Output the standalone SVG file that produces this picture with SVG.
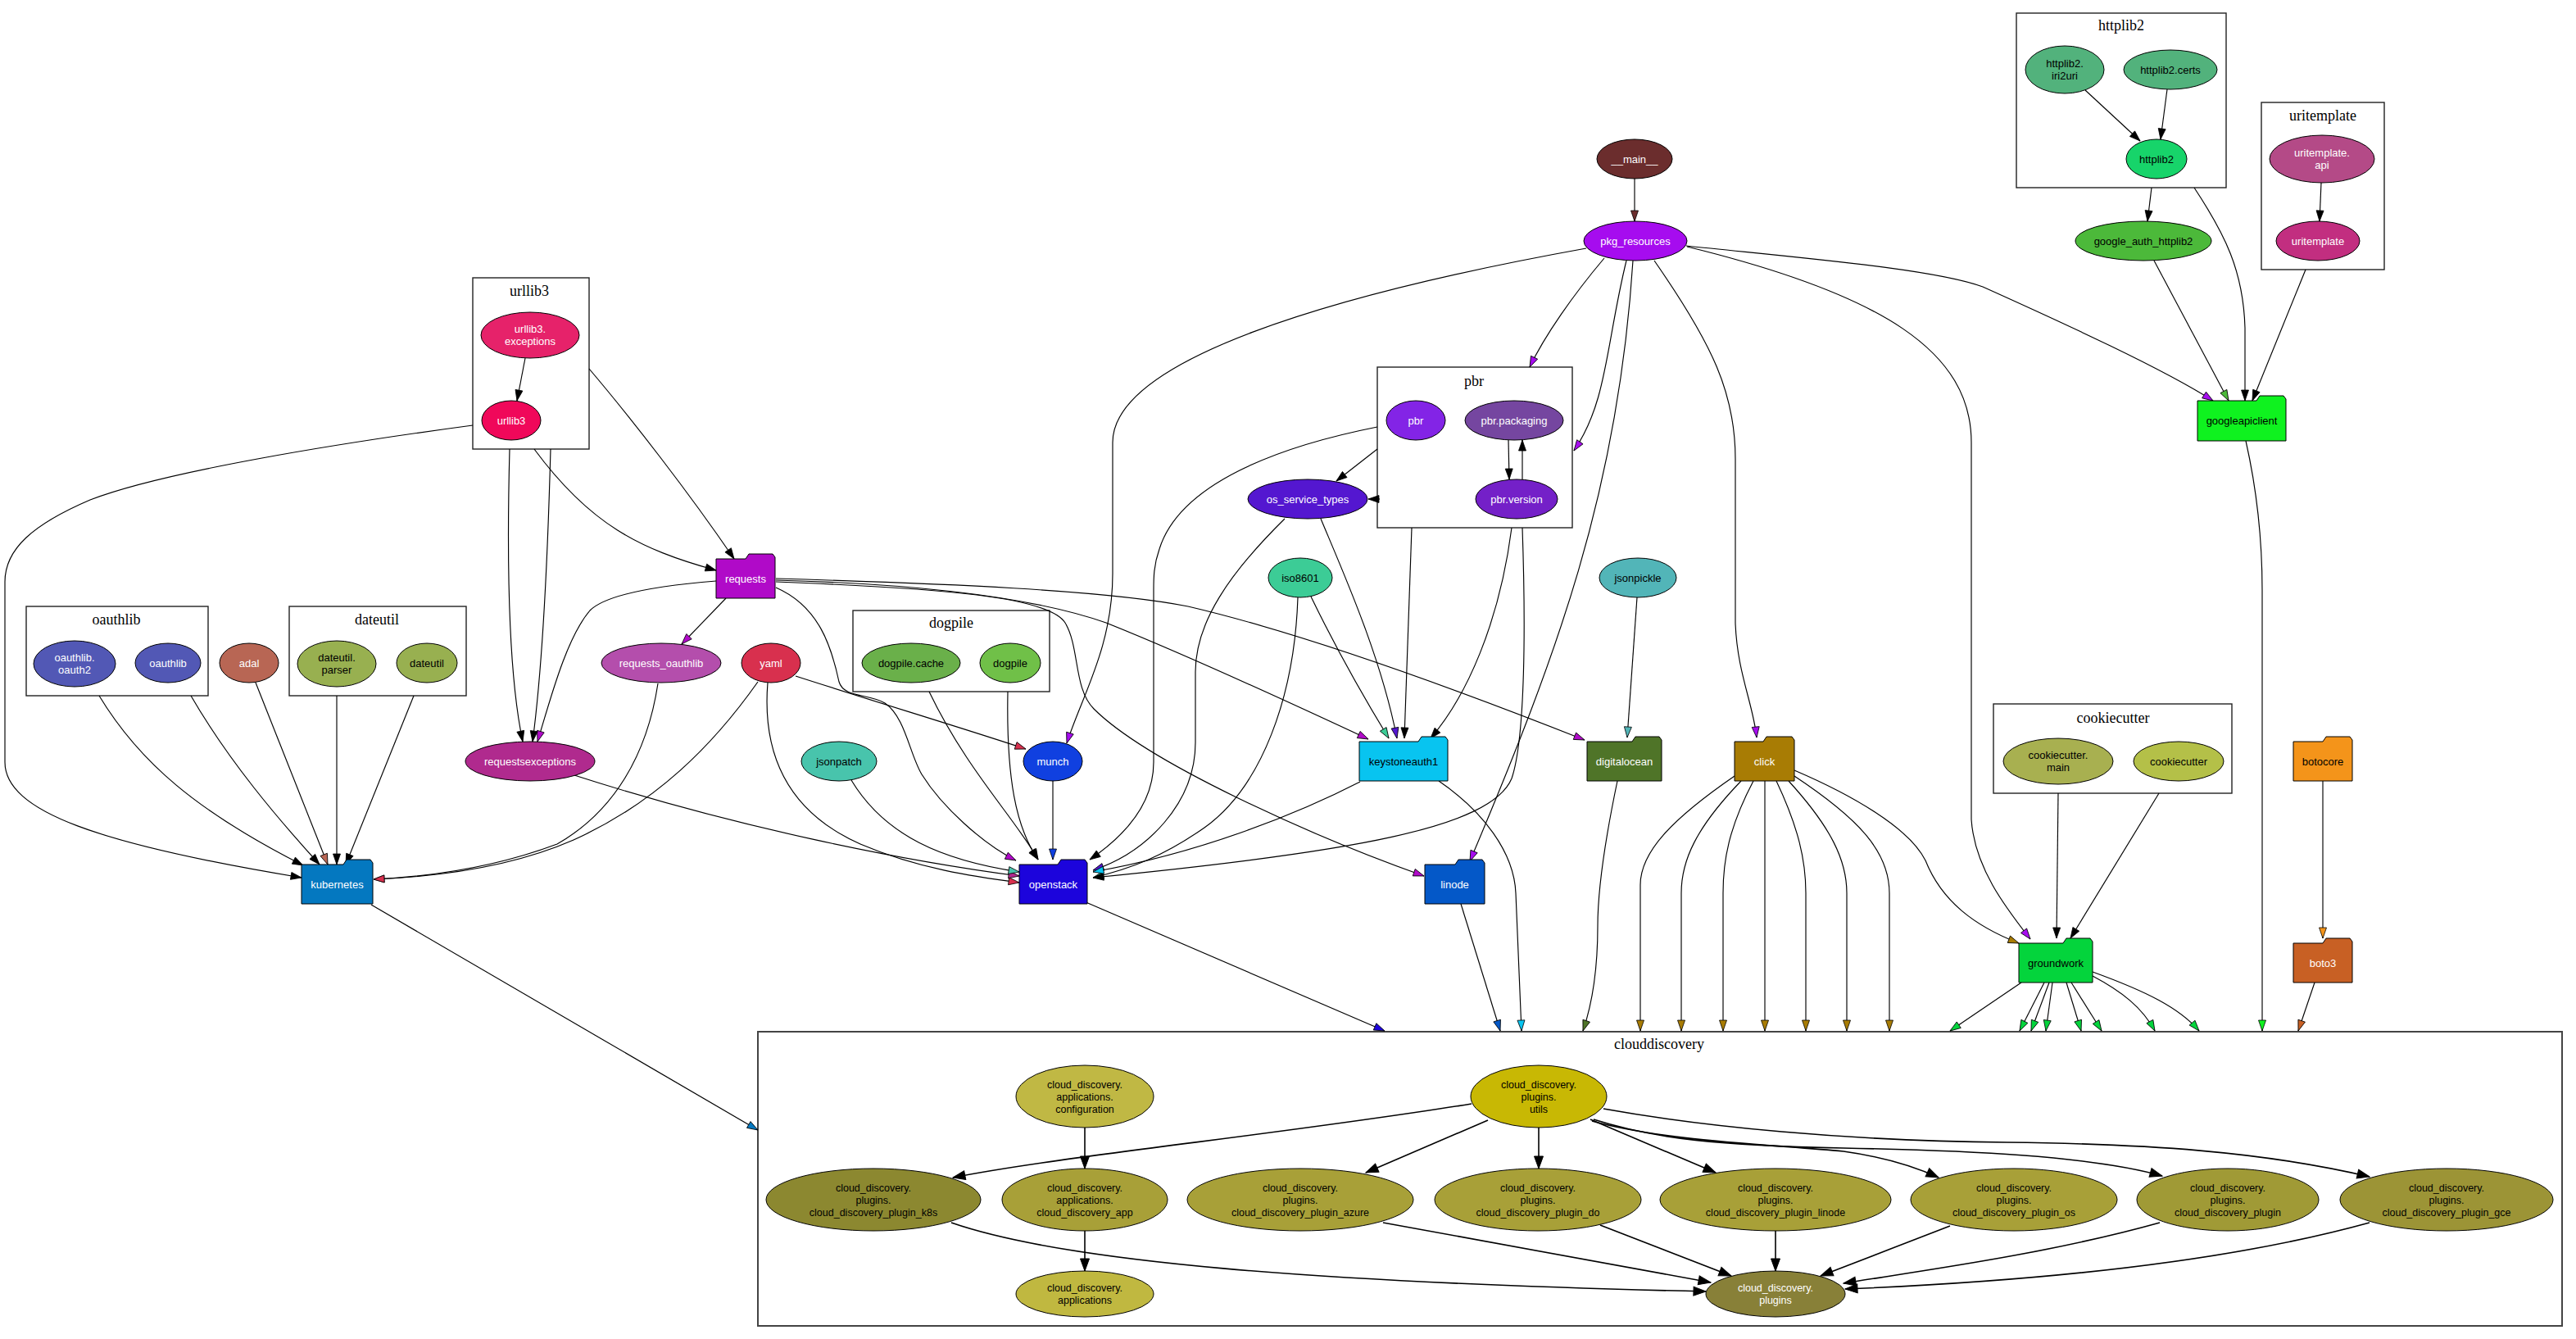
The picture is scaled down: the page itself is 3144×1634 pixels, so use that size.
<svg xmlns="http://www.w3.org/2000/svg" width="3144" height="1634" viewBox="0 0 3144 1634">
<style>
text{font-family:"Liberation Sans",Arial,sans-serif;font-size:13px;text-anchor:middle;fill:#000}
text.w{fill:#fff}
.cd text{font-size:12.5px}
.clu rect{fill:none;stroke:#222;stroke-width:1.4}
.clu text{font-family:"Liberation Serif","Times New Roman",serif;font-size:18px}
.nd ellipse,.nd path{stroke:#000;stroke-width:1}
.e path{fill:none;stroke:#000;stroke-width:1.15}
.ie path{fill:none;stroke:#000;stroke-width:1.6}
</style>
<defs>
<marker id="m-k" markerWidth="14" markerHeight="10" refX="13" refY="5" orient="auto" markerUnits="userSpaceOnUse" overflow="visible"><path d="M0,0.5 L13,5 L0,9.5 Z" fill="#000" stroke="#000" stroke-width="0.8"/></marker>
<marker id="m-K" markerWidth="16" markerHeight="12" refX="15" refY="6" orient="auto" markerUnits="userSpaceOnUse" overflow="visible"><path d="M0,0.5 L15,6 L0,11.5 Z" fill="#000" stroke="#000" stroke-width="1"/></marker>
<marker id="m-main" markerWidth="14" markerHeight="10" refX="13" refY="5" orient="auto" markerUnits="userSpaceOnUse" overflow="visible"><path d="M0,0.5 L13,5 L0,9.5 Z" fill="#6b2d2d" stroke="#000" stroke-width="0.8"/></marker>
<marker id="m-pkg" markerWidth="14" markerHeight="10" refX="13" refY="5" orient="auto" markerUnits="userSpaceOnUse" overflow="visible"><path d="M0,0.5 L13,5 L0,9.5 Z" fill="#a60cef" stroke="#000" stroke-width="0.8"/></marker>
<marker id="m-gauth" markerWidth="14" markerHeight="10" refX="13" refY="5" orient="auto" markerUnits="userSpaceOnUse" overflow="visible"><path d="M0,0.5 L13,5 L0,9.5 Z" fill="#4cb93a" stroke="#000" stroke-width="0.8"/></marker>
<marker id="m-gapi" markerWidth="14" markerHeight="10" refX="13" refY="5" orient="auto" markerUnits="userSpaceOnUse" overflow="visible"><path d="M0,0.5 L13,5 L0,9.5 Z" fill="#0ff21f" stroke="#000" stroke-width="0.8"/></marker>
<marker id="m-ost" markerWidth="14" markerHeight="10" refX="13" refY="5" orient="auto" markerUnits="userSpaceOnUse" overflow="visible"><path d="M0,0.5 L13,5 L0,9.5 Z" fill="#5417d0" stroke="#000" stroke-width="0.8"/></marker>
<marker id="m-iso" markerWidth="14" markerHeight="10" refX="13" refY="5" orient="auto" markerUnits="userSpaceOnUse" overflow="visible"><path d="M0,0.5 L13,5 L0,9.5 Z" fill="#3ccc96" stroke="#000" stroke-width="0.8"/></marker>
<marker id="m-ks" markerWidth="14" markerHeight="10" refX="13" refY="5" orient="auto" markerUnits="userSpaceOnUse" overflow="visible"><path d="M0,0.5 L13,5 L0,9.5 Z" fill="#08c4f0" stroke="#000" stroke-width="0.8"/></marker>
<marker id="m-req" markerWidth="14" markerHeight="10" refX="13" refY="5" orient="auto" markerUnits="userSpaceOnUse" overflow="visible"><path d="M0,0.5 L13,5 L0,9.5 Z" fill="#b00ac8" stroke="#000" stroke-width="0.8"/></marker>
<marker id="m-roa" markerWidth="14" markerHeight="10" refX="13" refY="5" orient="auto" markerUnits="userSpaceOnUse" overflow="visible"><path d="M0,0.5 L13,5 L0,9.5 Z" fill="#b44eac" stroke="#000" stroke-width="0.8"/></marker>
<marker id="m-yaml" markerWidth="14" markerHeight="10" refX="13" refY="5" orient="auto" markerUnits="userSpaceOnUse" overflow="visible"><path d="M0,0.5 L13,5 L0,9.5 Z" fill="#d8304e" stroke="#000" stroke-width="0.8"/></marker>
<marker id="m-rexc" markerWidth="14" markerHeight="10" refX="13" refY="5" orient="auto" markerUnits="userSpaceOnUse" overflow="visible"><path d="M0,0.5 L13,5 L0,9.5 Z" fill="#b02a8e" stroke="#000" stroke-width="0.8"/></marker>
<marker id="m-jp" markerWidth="14" markerHeight="10" refX="13" refY="5" orient="auto" markerUnits="userSpaceOnUse" overflow="visible"><path d="M0,0.5 L13,5 L0,9.5 Z" fill="#48c4ac" stroke="#000" stroke-width="0.8"/></marker>
<marker id="m-adal" markerWidth="14" markerHeight="10" refX="13" refY="5" orient="auto" markerUnits="userSpaceOnUse" overflow="visible"><path d="M0,0.5 L13,5 L0,9.5 Z" fill="#b86654" stroke="#000" stroke-width="0.8"/></marker>
<marker id="m-kub" markerWidth="14" markerHeight="10" refX="13" refY="5" orient="auto" markerUnits="userSpaceOnUse" overflow="visible"><path d="M0,0.5 L13,5 L0,9.5 Z" fill="#0478c0" stroke="#000" stroke-width="0.8"/></marker>
<marker id="m-munch" markerWidth="14" markerHeight="10" refX="13" refY="5" orient="auto" markerUnits="userSpaceOnUse" overflow="visible"><path d="M0,0.5 L13,5 L0,9.5 Z" fill="#1040e0" stroke="#000" stroke-width="0.8"/></marker>
<marker id="m-ostk" markerWidth="14" markerHeight="10" refX="13" refY="5" orient="auto" markerUnits="userSpaceOnUse" overflow="visible"><path d="M0,0.5 L13,5 L0,9.5 Z" fill="#1c04dc" stroke="#000" stroke-width="0.8"/></marker>
<marker id="m-lin" markerWidth="14" markerHeight="10" refX="13" refY="5" orient="auto" markerUnits="userSpaceOnUse" overflow="visible"><path d="M0,0.5 L13,5 L0,9.5 Z" fill="#0458c8" stroke="#000" stroke-width="0.8"/></marker>
<marker id="m-do" markerWidth="14" markerHeight="10" refX="13" refY="5" orient="auto" markerUnits="userSpaceOnUse" overflow="visible"><path d="M0,0.5 L13,5 L0,9.5 Z" fill="#4f7428" stroke="#000" stroke-width="0.8"/></marker>
<marker id="m-jpk" markerWidth="14" markerHeight="10" refX="13" refY="5" orient="auto" markerUnits="userSpaceOnUse" overflow="visible"><path d="M0,0.5 L13,5 L0,9.5 Z" fill="#52b5b8" stroke="#000" stroke-width="0.8"/></marker>
<marker id="m-click" markerWidth="14" markerHeight="10" refX="13" refY="5" orient="auto" markerUnits="userSpaceOnUse" overflow="visible"><path d="M0,0.5 L13,5 L0,9.5 Z" fill="#a87c04" stroke="#000" stroke-width="0.8"/></marker>
<marker id="m-gw" markerWidth="14" markerHeight="10" refX="13" refY="5" orient="auto" markerUnits="userSpaceOnUse" overflow="visible"><path d="M0,0.5 L13,5 L0,9.5 Z" fill="#04d43c" stroke="#000" stroke-width="0.8"/></marker>
<marker id="m-boc" markerWidth="14" markerHeight="10" refX="13" refY="5" orient="auto" markerUnits="userSpaceOnUse" overflow="visible"><path d="M0,0.5 L13,5 L0,9.5 Z" fill="#f4941a" stroke="#000" stroke-width="0.8"/></marker>
<marker id="m-b3" markerWidth="14" markerHeight="10" refX="13" refY="5" orient="auto" markerUnits="userSpaceOnUse" overflow="visible"><path d="M0,0.5 L13,5 L0,9.5 Z" fill="#c86024" stroke="#000" stroke-width="0.8"/></marker>
</defs>
<rect width="3144" height="1634" fill="#fff"/>

<g id="clusters" class="clu">
<g id="c-httplib2"><rect x="2461" y="16" width="256" height="213"/><text x="2589" y="37">httplib2</text></g>
<g id="c-uritemplate"><rect x="2760" y="125" width="150" height="204"/><text x="2835" y="147">uritemplate</text></g>
<g id="c-urllib3"><rect x="577" y="339" width="142" height="209"/><text x="646" y="361">urllib3</text></g>
<g id="c-pbr"><rect x="1681" y="448" width="238" height="196"/><text x="1799" y="471">pbr</text></g>
<g id="c-oauthlib"><rect x="32" y="740" width="222" height="109"/><text x="142" y="762">oauthlib</text></g>
<g id="c-dateutil"><rect x="353" y="740" width="216" height="109"/><text x="460" y="762">dateutil</text></g>
<g id="c-dogpile"><rect x="1041" y="745" width="240" height="99"/><text x="1161" y="766">dogpile</text></g>
<g id="c-cookiecutter"><rect x="2433" y="859" width="291" height="109"/><text x="2579" y="882">cookiecutter</text></g>
<g id="c-clouddiscovery"><rect x="925" y="1259" width="2202" height="359" style="stroke:#444;stroke-width:2"/><text x="2025" y="1280">clouddiscovery</text></g>
</g>

<g id="edges" class="e">
<path d="M1995,218 L1995,270" marker-end="url(#m-main)"/>
<path d="M2545,110 L2612,172" marker-end="url(#m-k)"/>
<path d="M2645,109 L2637,170" marker-end="url(#m-k)"/>
<path d="M2626,229 L2621,270" marker-end="url(#m-k)"/>
<path d="M2678,229 C2715,285 2738,330 2740,400 L2740,489" marker-end="url(#m-k)"/>
<path d="M2833,223 L2831,270" marker-end="url(#m-k)"/>
<path d="M2814,329 L2749,489" marker-end="url(#m-k)"/>
<path d="M2629,318 L2720,489" marker-end="url(#m-gauth)"/>
<path d="M2058,300 C2200,315 2360,328 2420,350 C2520,395 2640,450 2701,489" marker-end="url(#m-pkg)"/>
<path d="M2741,538 C2755,600 2761,660 2761,720 L2761,1258" marker-end="url(#m-gapi)"/>
<path d="M1936,303 C1620,360 1358,440 1358,540 L1358,700 C1358,790 1320,850 1302,907" marker-end="url(#m-pkg)"/>
<path d="M1958,315 C1920,360 1885,410 1867,448" marker-end="url(#m-pkg)"/>
<path d="M1985,318 C1960,420 1962,490 1921,550" marker-end="url(#m-pkg)"/>
<path d="M1993,318 C1975,600 1900,800 1794,1051" marker-end="url(#m-pkg)"/>
<path d="M2019,318 C2090,420 2118,480 2118,560 L2118,760 C2120,820 2140,860 2144,900" marker-end="url(#m-pkg)"/>
<path d="M2059,301 C2300,360 2406,430 2406,540 L2406,1000 C2410,1060 2450,1110 2478,1146" marker-end="url(#m-pkg)"/>
<path d="M1841,537 L1842,585" marker-end="url(#m-k)"/>
<path d="M1858,585 L1858,537" marker-end="url(#m-k)"/>
<path d="M1681,548 L1631,587" marker-end="url(#m-k)"/>
<path d="M1684,609 L1670,609" marker-end="url(#m-k)"/>
<path d="M1681,521 C1560,545 1440,590 1415,670 C1408,690 1408,705 1408,720 L1408,930 C1408,975 1380,1015 1330,1049" marker-end="url(#m-k)"/>
<path d="M1612,633 C1640,700 1685,800 1705,901" marker-end="url(#m-ost)"/>
<path d="M1568,633 C1500,700 1459,760 1459,820 L1459,906 C1459,980 1400,1040 1334,1062" marker-end="url(#m-ost)"/>
<path d="M1600,728 C1630,790 1670,860 1695,901" marker-end="url(#m-iso)"/>
<path d="M1584,729 C1580,850 1540,960 1470,1010 C1420,1045 1380,1060 1334,1071" marker-end="url(#m-iso)"/>
<path d="M1723,644 L1714,901" marker-end="url(#m-k)"/>
<path d="M1845,644 C1830,760 1790,850 1746,901" marker-end="url(#m-k)"/>
<path d="M1858,644 C1862,760 1862,900 1845,950 C1820,1010 1650,1040 1334,1071" marker-end="url(#m-k)"/>
<path d="M1660,954 C1590,990 1470,1040 1334,1064" marker-end="url(#m-ks)"/>
<path d="M1756,953 C1810,990 1848,1040 1850,1090 L1857,1258" marker-end="url(#m-ks)"/>
<path d="M947,708 C1100,712 1250,725 1350,760 C1450,800 1580,860 1670,902" marker-end="url(#m-req)"/>
<path d="M947,706 C1150,712 1350,720 1450,740 C1600,775 1800,850 1934,903" marker-end="url(#m-req)"/>
<path d="M947,710 C1150,718 1280,728 1300,760 C1318,790 1310,840 1335,865 C1400,930 1600,1020 1738,1069" marker-end="url(#m-req)"/>
<path d="M947,717 C1000,740 1015,790 1024,832 C1030,852 1060,846 1080,858 C1105,875 1110,920 1125,945 C1150,985 1200,1030 1240,1050" marker-end="url(#m-req)"/>
<path d="M886,730 L832,786" marker-end="url(#m-req)"/>
<path d="M874,709 C800,715 740,725 720,745 C690,780 670,860 656,905" marker-end="url(#m-req)"/>
<path d="M641,437 L631,489" marker-end="url(#m-k)"/>
<path d="M577,519 C420,540 200,575 110,610 C40,640 6,670 6,710 L6,930 C6,990 120,1030 368,1071" marker-end="url(#m-k)"/>
<path d="M719,450 C770,510 840,600 896,682" marker-end="url(#m-k)"/>
<path d="M652,548 C720,640 780,670 874,696" marker-end="url(#m-k)"/>
<path d="M622,548 C618,700 622,830 638,905" marker-end="url(#m-k)"/>
<path d="M672,548 C668,700 660,830 650,905" marker-end="url(#m-k)"/>
<path d="M803,834 C790,920 750,990 680,1030 C600,1060 520,1070 456,1073" marker-end="url(#m-roa)"/>
<path d="M925,832 C870,910 800,980 700,1025 C620,1060 530,1070 456,1073" marker-end="url(#m-yaml)"/>
<path d="M971,825 C1080,860 1180,890 1252,914" marker-end="url(#m-yaml)"/>
<path d="M937,833 C930,920 960,990 1050,1030 C1120,1060 1190,1070 1244,1077" marker-end="url(#m-yaml)"/>
<path d="M701,946 C900,1010 1100,1050 1244,1069" marker-end="url(#m-rexc)"/>
<path d="M1039,952 C1080,1020 1150,1050 1244,1064" marker-end="url(#m-jp)"/>
<path d="M121,849 C170,930 240,990 370,1056" marker-end="url(#m-k)"/>
<path d="M233,849 C280,930 340,1000 390,1055" marker-end="url(#m-k)"/>
<path d="M312,833 L400,1055" marker-end="url(#m-adal)"/>
<path d="M411,849 L411,1055" marker-end="url(#m-k)"/>
<path d="M505,849 L422,1055" marker-end="url(#m-k)"/>
<path d="M453,1104 L925,1379" marker-end="url(#m-kub)"/>
<path d="M1134,844 C1180,940 1240,1000 1267,1049" marker-end="url(#m-k)"/>
<path d="M1230,844 C1228,950 1240,1010 1267,1049" marker-end="url(#m-k)"/>
<path d="M1285,953 L1285,1049" marker-end="url(#m-munch)"/>
<path d="M1323,1100 L1690,1258" marker-end="url(#m-ostk)"/>
<path d="M1783,1103 L1831,1258" marker-end="url(#m-lin)"/>
<path d="M1974,953 C1960,1020 1950,1080 1950,1130 C1950,1180 1945,1220 1932,1258" marker-end="url(#m-do)"/>
<path d="M1998,729 L1986,900" marker-end="url(#m-jpk)"/>
<path d="M2117,947 C2040,1000 2002,1040 2002,1080 L2002,1258" marker-end="url(#m-click)"/>
<path d="M2125,953 C2070,1010 2052,1050 2052,1090 L2052,1258" marker-end="url(#m-click)"/>
<path d="M2140,953 C2110,1010 2103,1050 2103,1090 L2103,1258" marker-end="url(#m-click)"/>
<path d="M2154,953 L2154,1258" marker-end="url(#m-click)"/>
<path d="M2168,953 C2195,1010 2204,1050 2204,1090 L2204,1258" marker-end="url(#m-click)"/>
<path d="M2183,953 C2235,1010 2254,1050 2254,1090 L2254,1258" marker-end="url(#m-click)"/>
<path d="M2190,947 C2270,1000 2306,1040 2306,1090 L2306,1258" marker-end="url(#m-click)"/>
<path d="M2190,940 C2260,970 2330,1010 2350,1050 C2370,1100 2410,1130 2464,1151" marker-end="url(#m-click)"/>
<path d="M2467,1199 L2380,1258" marker-end="url(#m-gw)"/>
<path d="M2495,1199 L2465,1258" marker-end="url(#m-gw)"/>
<path d="M2501,1199 L2479,1258" marker-end="url(#m-gw)"/>
<path d="M2505,1199 L2497,1258" marker-end="url(#m-gw)"/>
<path d="M2522,1199 L2540,1258" marker-end="url(#m-gw)"/>
<path d="M2528,1199 L2565,1258" marker-end="url(#m-gw)"/>
<path d="M2554,1191 C2590,1210 2615,1230 2630,1258" marker-end="url(#m-gw)"/>
<path d="M2554,1186 C2620,1210 2660,1230 2684,1258" marker-end="url(#m-gw)"/>
<path d="M2835,953 L2835,1145" marker-end="url(#m-boc)"/>
<path d="M2825,1199 L2805,1258" marker-end="url(#m-b3)"/>
<path d="M2512,968 L2510,1145" marker-end="url(#m-k)"/>
<path d="M2635,968 L2527,1145" marker-end="url(#m-k)"/>
</g>
<g id="edges-cd" class="ie">
<path d="M1324,1376 L1324,1426" marker-end="url(#m-K)"/>
<path d="M1796,1347 C1560,1385 1300,1410 1163,1437" marker-end="url(#m-K)"/>
<path d="M1816,1367 L1667,1431" marker-end="url(#m-K)"/>
<path d="M1878,1376 L1878,1426" marker-end="url(#m-K)"/>
<path d="M1941,1366 L2094,1431" marker-end="url(#m-K)"/>
<path d="M1943,1368 C2030,1392 2150,1396 2250,1405 C2300,1412 2340,1425 2366,1437" marker-end="url(#m-K)"/>
<path d="M1945,1366 C2020,1390 2100,1398 2250,1401 C2400,1404 2550,1410 2639,1435" marker-end="url(#m-K)"/>
<path d="M1957,1353 C2080,1375 2250,1392 2450,1394 C2620,1396 2760,1405 2892,1436" marker-end="url(#m-K)"/>
<path d="M1161,1492 C1300,1540 1600,1565 2082,1576" marker-end="url(#m-K)"/>
<path d="M1324,1502 L1324,1551" marker-end="url(#m-K)"/>
<path d="M1688,1492 L2088,1565" marker-end="url(#m-K)"/>
<path d="M1953,1495 L2113,1557" marker-end="url(#m-K)"/>
<path d="M2167,1502 L2167,1551" marker-end="url(#m-K)"/>
<path d="M2380,1496 L2222,1557" marker-end="url(#m-K)"/>
<path d="M2636,1492 C2500,1530 2350,1550 2250,1566" marker-end="url(#m-K)"/>
<path d="M2892,1492 C2700,1545 2450,1565 2252,1573" marker-end="url(#m-K)"/>
</g>

<g id="nodes" class="nd">
<g id="n-main"><ellipse cx="1995" cy="194" rx="46" ry="24" fill="#6b2d2d"/><text x="1995" y="198.5" class="w">__main__</text></g>
<g id="n-pkg_resources"><ellipse cx="1996" cy="294" rx="63" ry="24" fill="#a60cef"/><text x="1996" y="298.5" class="w">pkg_resources</text></g>
<g id="n-httplib2-iri2uri"><ellipse cx="2520" cy="85" rx="48" ry="29" fill="#52b27c"/><text x="2520" y="82">httplib2.</text><text x="2520" y="97">iri2uri</text></g>
<g id="n-httplib2-certs"><ellipse cx="2649" cy="85" rx="57" ry="24" fill="#52b27c"/><text x="2649" y="89.5">httplib2.certs</text></g>
<g id="n-httplib2"><ellipse cx="2632" cy="194" rx="37" ry="24" fill="#17d46a"/><text x="2632" y="198.5">httplib2</text></g>
<g id="n-google_auth_httplib2"><ellipse cx="2616" cy="294" rx="83" ry="24" fill="#4cb93a"/><text x="2616" y="298.5">google_auth_httplib2</text></g>
<g id="n-uritemplate-api"><ellipse cx="2834" cy="194" rx="64" ry="29" fill="#b44a87"/><text x="2834" y="191" class="w">uritemplate.</text><text x="2834" y="206" class="w">api</text></g>
<g id="n-uritemplate"><ellipse cx="2829" cy="294" rx="51" ry="24" fill="#c22e80"/><text x="2829" y="298.5" class="w">uritemplate</text></g>
<g id="n-googleapiclient"><path d="M2682,489 L2754,489 L2758,483 L2787,483 L2790,487 L2790,538 L2682,538 Z" fill="#0ff21f"/><text x="2736" y="518">googleapiclient</text></g>
<g id="n-urllib3-exceptions"><ellipse cx="647" cy="409" rx="60" ry="28" fill="#e6226a"/><text x="647" y="405.5" class="w">urllib3.</text><text x="647" y="420.5" class="w">exceptions</text></g>
<g id="n-urllib3"><ellipse cx="624" cy="513" rx="36" ry="24" fill="#f0085a"/><text x="624" y="517.5" class="w">urllib3</text></g>
<g id="n-pbr"><ellipse cx="1728" cy="513" rx="36" ry="24" fill="#8324e6"/><text x="1728" y="517.5" class="w">pbr</text></g>
<g id="n-pbr-packaging"><ellipse cx="1848" cy="513" rx="60" ry="24" fill="#7546a0"/><text x="1848" y="517.5" class="w">pbr.packaging</text></g>
<g id="n-pbr-version"><ellipse cx="1851" cy="609" rx="50" ry="24" fill="#7420c8"/><text x="1851" y="613.5" class="w">pbr.version</text></g>
<g id="n-os_service_types"><ellipse cx="1596" cy="609" rx="73" ry="24" fill="#5417d0"/><text x="1596" y="613.5" class="w">os_service_types</text></g>
<g id="n-requests"><path d="M874,682 L910,682 L914,676 L943,676 L946,680 L946,730 L874,730 Z" fill="#b00ac8"/><text x="910" y="710.5" class="w">requests</text></g>
<g id="n-iso8601"><ellipse cx="1587" cy="705" rx="39" ry="24" fill="#3ccc96"/><text x="1587" y="709.5">iso8601</text></g>
<g id="n-jsonpickle"><ellipse cx="1999" cy="705" rx="47" ry="24" fill="#52b5b8"/><text x="1999" y="709.5">jsonpickle</text></g>
<g id="n-oauthlib-oauth2"><ellipse cx="91" cy="810" rx="50" ry="28" fill="#5258b5"/><text x="91" y="806.5" class="w">oauthlib.</text><text x="91" y="821.5" class="w">oauth2</text></g>
<g id="n-oauthlib"><ellipse cx="205" cy="809" rx="40" ry="24" fill="#5258b5"/><text x="205" y="813.5" class="w">oauthlib</text></g>
<g id="n-adal"><ellipse cx="304" cy="809" rx="36" ry="24" fill="#b86654"/><text x="304" y="813.5" class="w">adal</text></g>
<g id="n-dateutil-parser"><ellipse cx="411" cy="810" rx="48" ry="28" fill="#98b050"/><text x="411" y="806.5">dateutil.</text><text x="411" y="821.5">parser</text></g>
<g id="n-dateutil"><ellipse cx="521" cy="809" rx="37" ry="24" fill="#98b050"/><text x="521" y="813.5">dateutil</text></g>
<g id="n-requests_oauthlib"><ellipse cx="807" cy="809" rx="73" ry="24" fill="#b44eac"/><text x="807" y="813.5" class="w">requests_oauthlib</text></g>
<g id="n-yaml"><ellipse cx="941" cy="809" rx="36" ry="24" fill="#d8304e"/><text x="941" y="813.5" class="w">yaml</text></g>
<g id="n-dogpile-cache"><ellipse cx="1112" cy="809" rx="60" ry="24" fill="#6ab04a"/><text x="1112" y="813.5">dogpile.cache</text></g>
<g id="n-dogpile"><ellipse cx="1233" cy="809" rx="37" ry="24" fill="#70c048"/><text x="1233" y="813.5">dogpile</text></g>
<g id="n-requestsexceptions"><ellipse cx="647" cy="929" rx="79" ry="24" fill="#b02a8e"/><text x="647" y="933.5" class="w">requestsexceptions</text></g>
<g id="n-jsonpatch"><ellipse cx="1024" cy="929" rx="46" ry="24" fill="#48c4ac"/><text x="1024" y="933.5">jsonpatch</text></g>
<g id="n-munch"><ellipse cx="1285" cy="929" rx="36" ry="24" fill="#1040e0"/><text x="1285" y="933.5" class="w">munch</text></g>
<g id="n-keystoneauth1"><path d="M1659,905 L1731,905 L1735,899 L1764,899 L1767,903 L1767,953 L1659,953 Z" fill="#08c4f0"/><text x="1713" y="933.5">keystoneauth1</text></g>
<g id="n-digitalocean"><path d="M1937,905 L1992,905 L1996,899 L2025,899 L2028,903 L2028,953 L1937,953 Z" fill="#4f7428"/><text x="1982.5" y="933.5" class="w">digitalocean</text></g>
<g id="n-click"><path d="M2117,905 L2152,905 L2156,899 L2187,899 L2190,903 L2190,953 L2117,953 Z" fill="#a87c04"/><text x="2153.5" y="933.5" class="w">click</text></g>
<g id="n-cookiecutter-main"><ellipse cx="2512" cy="929" rx="67" ry="28" fill="#a8b050"/><text x="2512" y="925.5">cookiecutter.</text><text x="2512" y="940.5">main</text></g>
<g id="n-cookiecutter"><ellipse cx="2659" cy="929" rx="55" ry="24" fill="#b4c048"/><text x="2659" y="933.5">cookiecutter</text></g>
<g id="n-botocore"><path d="M2799,905 L2835,905 L2839,899 L2868,899 L2871,903 L2871,953 L2799,953 Z" fill="#f4941a"/><text x="2835" y="933.5">botocore</text></g>
<g id="n-kubernetes"><path d="M368,1055 L419,1055 L423,1049 L452,1049 L455,1053 L455,1103 L368,1103 Z" fill="#0478c0"/><text x="411.5" y="1083.5" class="w">kubernetes</text></g>
<g id="n-openstack"><path d="M1244,1055 L1291,1055 L1295,1049 L1324,1049 L1327,1053 L1327,1103 L1244,1103 Z" fill="#1c04dc"/><text x="1285.5" y="1083.5" class="w">openstack</text></g>
<g id="n-linode"><path d="M1739,1055 L1776,1055 L1780,1049 L1809,1049 L1812,1053 L1812,1103 L1739,1103 Z" fill="#0458c8"/><text x="1775.5" y="1083.5" class="w">linode</text></g>
<g id="n-groundwork"><path d="M2464,1151 L2518,1151 L2522,1145 L2551,1145 L2554,1149 L2554,1199 L2464,1199 Z" fill="#04d43c"/><text x="2509" y="1179.5">groundwork</text></g>
<g id="n-boto3"><path d="M2799,1151 L2835,1151 L2839,1145 L2868,1145 L2871,1149 L2871,1199 L2799,1199 Z" fill="#c86024"/><text x="2835" y="1179.5" class="w">boto3</text></g>
<g class="cd">
<g id="n-cd-app-config"><ellipse cx="1324" cy="1338" rx="84" ry="38" fill="#c0b844"/><text x="1324" y="1327.5">cloud_discovery.</text><text x="1324" y="1342.5">applications.</text><text x="1324" y="1357.5">configuration</text></g>
<g id="n-cd-plugins-utils"><ellipse cx="1878" cy="1338" rx="83" ry="38" fill="#c8b804"/><text x="1878" y="1327.5">cloud_discovery.</text><text x="1878" y="1342.5">plugins.</text><text x="1878" y="1357.5">utils</text></g>
<g id="n-cd-k8s"><ellipse cx="1066" cy="1464" rx="131" ry="38" fill="#8c8830"/><text x="1066" y="1453.5">cloud_discovery.</text><text x="1066" y="1468.5">plugins.</text><text x="1066" y="1483.5">cloud_discovery_plugin_k8s</text></g>
<g id="n-cd-app"><ellipse cx="1324" cy="1464" rx="101" ry="38" fill="#a8a038"/><text x="1324" y="1453.5">cloud_discovery.</text><text x="1324" y="1468.5">applications.</text><text x="1324" y="1483.5">cloud_discovery_app</text></g>
<g id="n-cd-azure"><ellipse cx="1587" cy="1464" rx="138" ry="38" fill="#a8a038"/><text x="1587" y="1453.5">cloud_discovery.</text><text x="1587" y="1468.5">plugins.</text><text x="1587" y="1483.5">cloud_discovery_plugin_azure</text></g>
<g id="n-cd-do"><ellipse cx="1877" cy="1464" rx="126" ry="38" fill="#a8a038"/><text x="1877" y="1453.5">cloud_discovery.</text><text x="1877" y="1468.5">plugins.</text><text x="1877" y="1483.5">cloud_discovery_plugin_do</text></g>
<g id="n-cd-linode"><ellipse cx="2167" cy="1464" rx="141" ry="38" fill="#a8a038"/><text x="2167" y="1453.5">cloud_discovery.</text><text x="2167" y="1468.5">plugins.</text><text x="2167" y="1483.5">cloud_discovery_plugin_linode</text></g>
<g id="n-cd-os"><ellipse cx="2458" cy="1464" rx="126" ry="38" fill="#a8a038"/><text x="2458" y="1453.5">cloud_discovery.</text><text x="2458" y="1468.5">plugins.</text><text x="2458" y="1483.5">cloud_discovery_plugin_os</text></g>
<g id="n-cd-plugin"><ellipse cx="2719" cy="1464" rx="111" ry="38" fill="#a09a36"/><text x="2719" y="1453.5">cloud_discovery.</text><text x="2719" y="1468.5">plugins.</text><text x="2719" y="1483.5">cloud_discovery_plugin</text></g>
<g id="n-cd-gce"><ellipse cx="2986" cy="1464" rx="130" ry="38" fill="#9c9436"/><text x="2986" y="1453.5">cloud_discovery.</text><text x="2986" y="1468.5">plugins.</text><text x="2986" y="1483.5">cloud_discovery_plugin_gce</text></g>
<g id="n-cd-applications"><ellipse cx="1324" cy="1579" rx="84" ry="28" fill="#c0b840"/><text x="1324" y="1575.5">cloud_discovery.</text><text x="1324" y="1590.5">applications</text></g>
<g id="n-cd-plugins"><ellipse cx="2167" cy="1579" rx="85" ry="28" fill="#888038"/><text x="2167" y="1575.5" class="w">cloud_discovery.</text><text x="2167" y="1590.5" class="w">plugins</text></g>
</g>
</g>
</svg>
